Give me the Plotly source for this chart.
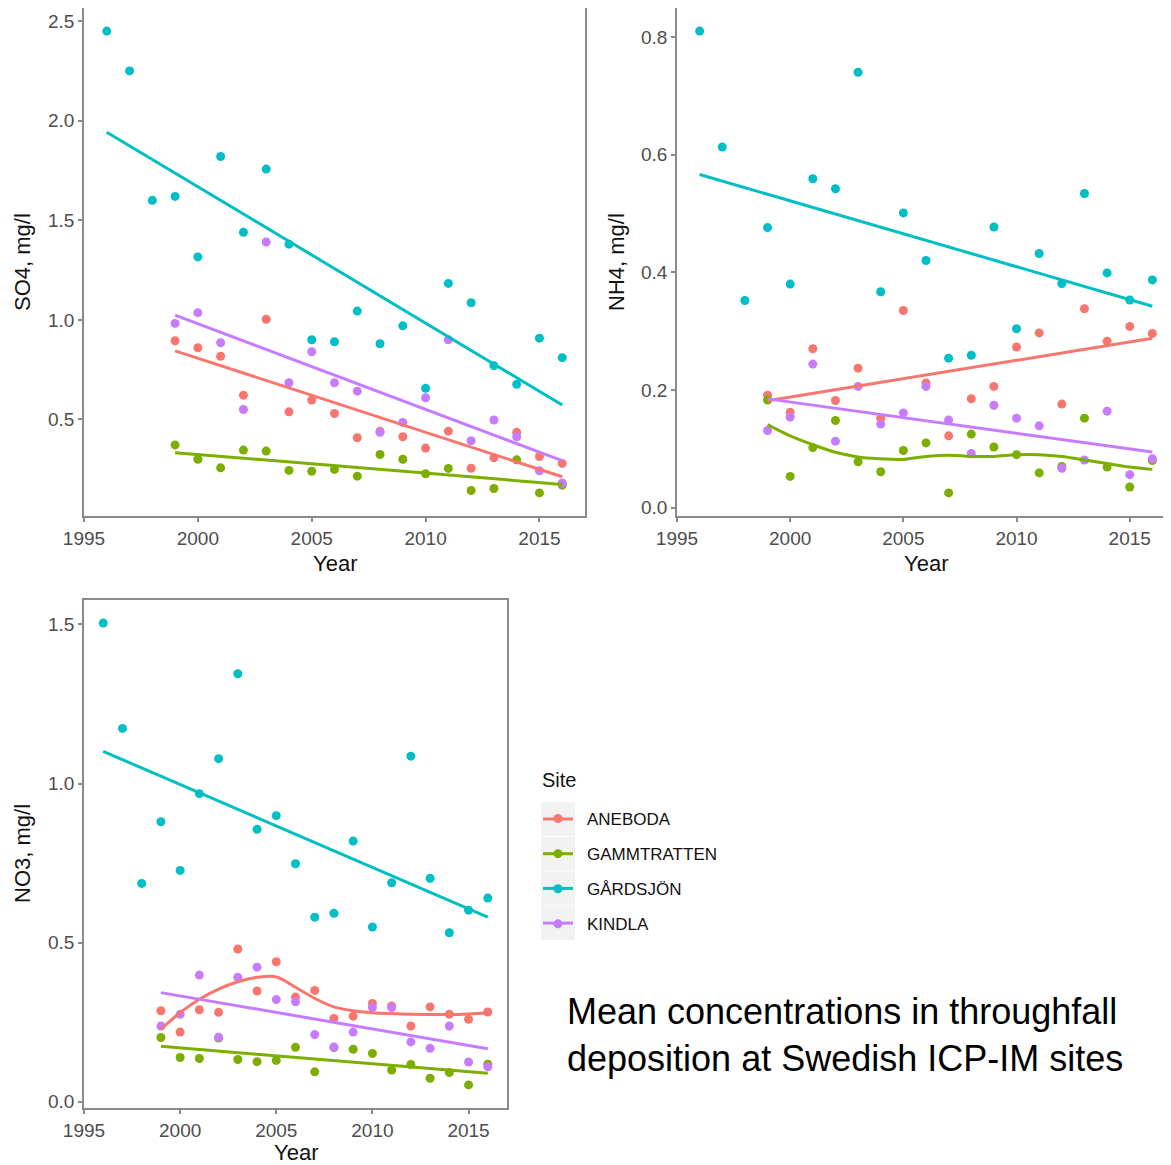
import numpy as np
import plotly.graph_objects as go

# window size and page offset (default body margin of the html page)
WIN_W, WIN_H = 1171, 1165
OFF = 8
W, H = WIN_W - OFF, WIN_H - OFF


def fx(x):
    return (x - OFF) / W


def fy(y):
    return 1 - (y - OFF) / H


sites = ["ANEBODA", "GAMMTRATTEN", "GÅRDSJÖN", "KINDLA"]
colors = {"ANEBODA": "#F8766D", "GAMMTRATTEN": "#7CAE00", "GÅRDSJÖN": "#00BFC4", "KINDLA": "#C77CFF"}

years_gard = list(range(1996, 2017))
years_other = list(range(1999, 2017))

# SO4 (mg/l)
so4_aneboda = [0.895, 0.86, 0.817, 0.622, 1.003, 0.538, 0.597, 0.53, 0.408, 0.44, 0.413, 0.356, 0.441, 0.255, 0.307, 0.435, 0.314, 0.279]
so4_gammtratten = [0.372, 0.30, 0.257, 0.346, 0.341, 0.244, 0.24, 0.249, 0.215, 0.324, 0.30, 0.227, 0.254, 0.143, 0.153, 0.297, 0.131, 0.17]
so4_gardsjon = [2.45, 2.25, 1.60, 1.62, 1.316, 1.82, 1.44, 1.757, 1.38, 0.90, 0.89, 1.044, 0.88, 0.97, 0.656, 1.183, 1.086, 0.77, 0.676, 0.908, 0.81]
so4_kindla = [0.982, 1.036, 0.885, 0.55, 1.391, 0.684, 0.84, 0.684, 0.642, 0.435, 0.485, 0.609, 0.90, 0.393, 0.497, 0.413, 0.242, 0.181]

# NH4 (mg/l)
nh4_aneboda = [0.191, 0.162, 0.270, 0.182, 0.237, 0.152, 0.335, 0.212, 0.122, 0.185, 0.206, 0.273, 0.297, 0.176, 0.338, 0.283, 0.308, 0.296]
nh4_gammtratten = [0.183, 0.053, 0.102, 0.148, 0.078, 0.061, 0.097, 0.110, 0.025, 0.125, 0.103, 0.090, 0.059, 0.07, 0.152, 0.069, 0.035, 0.08]
nh4_gardsjon = [0.81, 0.613, 0.352, 0.476, 0.380, 0.559, 0.542, 0.740, 0.367, 0.501, 0.420, 0.254, 0.259, 0.477, 0.304, 0.432, 0.381, 0.534, 0.399, 0.353, 0.387]
nh4_kindla = [0.131, 0.154, 0.244, 0.113, 0.206, 0.142, 0.161, 0.206, 0.149, 0.092, 0.174, 0.152, 0.139, 0.067, 0.081, 0.164, 0.056, 0.083]
nh4_gammtratten_smooth = [0.141, 0.122, 0.107, 0.094, 0.086, 0.083, 0.082, 0.087, 0.089, 0.087, 0.087, 0.090, 0.090, 0.087, 0.081, 0.075, 0.069, 0.065]

# NO3 (mg/l)
no3_aneboda = [0.286, 0.219, 0.289, 0.281, 0.48, 0.348, 0.44, 0.329, 0.35, 0.262, 0.269, 0.309, 0.301, 0.238, 0.298, 0.275, 0.259, 0.282]
no3_gammtratten = [0.202, 0.139, 0.136, 0.2, 0.133, 0.126, 0.13, 0.171, 0.094, 0.17, 0.165, 0.152, 0.10, 0.117, 0.074, 0.092, 0.053, 0.118]
no3_gardsjon = [1.504, 1.173, 0.686, 0.88, 0.727, 0.968, 1.078, 1.345, 0.856, 0.899, 0.748, 0.58, 0.592, 0.819, 0.549, 0.688, 1.086, 0.702, 0.531, 0.602, 0.640]
no3_kindla = [0.238, 0.275, 0.398, 0.203, 0.391, 0.423, 0.321, 0.314, 0.211, 0.172, 0.219, 0.296, 0.296, 0.188, 0.168, 0.238, 0.125, 0.11]
no3_aneboda_smooth = [0.228, 0.28, 0.322, 0.354, 0.377, 0.391, 0.392, 0.36, 0.325, 0.298, 0.286, 0.28, 0.277, 0.275, 0.274, 0.274, 0.276, 0.28]

x_ticks = [1995, 2000, 2005, 2010, 2015]

panels = [
    dict(name="SO4, mg/l", data={"ANEBODA": so4_aneboda, "GAMMTRATTEN": so4_gammtratten, "GÅRDSJÖN": so4_gardsjon, "KINDLA": so4_kindla},
         smooth={}, ticks=[0.5, 1.0, 1.5, 2.0, 2.5],
         px=(84, 585), py=(8, 516), title_x=22, year_y=563),
    dict(name="NH4, mg/l", data={"ANEBODA": nh4_aneboda, "GAMMTRATTEN": nh4_gammtratten, "GÅRDSJÖN": nh4_gardsjon, "KINDLA": nh4_kindla},
         smooth={"GAMMTRATTEN": nh4_gammtratten_smooth}, ticks=[0.0, 0.2, 0.4, 0.6, 0.8],
         px=(677, 1175), py=(8, 516), title_x=616, year_y=563),
    dict(name="NO3, mg/l", data={"ANEBODA": no3_aneboda, "GAMMTRATTEN": no3_gammtratten, "GÅRDSJÖN": no3_gardsjon, "KINDLA": no3_kindla},
         smooth={"ANEBODA": no3_aneboda_smooth}, ticks=[0.0, 0.5, 1.0, 1.5],
         px=(84, 507), py=(600, 1108), title_x=22, year_y=1152),
]

fig = go.Figure()
layout = {}
annotations = []
border = "#8a8a8a"
FONT = "Liberation Sans, Arial, sans-serif"
tick_font = dict(family=FONT, size=19, color="#4d4d4d")
title_font = dict(family=FONT, size=22, color="#111111")

for i, p in enumerate(panels, start=1):
    xa = "x" if i == 1 else f"x{i}"
    ya = "y" if i == 1 else f"y{i}"
    x0p, x1p = p["px"]
    y0p, y1p = p["py"]
    full_w = x1p - x0p
    x_lo, x_hi = 1995.0, 2017.0
    if x1p > WIN_W:
        x_hi = x_lo + (x_hi - x_lo) * (WIN_W - x0p) / full_w
        x1p = WIN_W
    allv = np.concatenate([np.array(v, dtype=float) for v in p["data"].values()])
    vmin, vmax = allv.min(), allv.max()
    pad = 0.05 * (vmax - vmin)
    for s in sites:
        yrs = years_gard if s == "GÅRDSJÖN" else years_other
        fig.add_trace(go.Scatter(x=yrs, y=p["data"][s], mode="markers", xaxis=xa, yaxis=ya,
                                 marker=dict(color=colors[s], size=9), showlegend=False, hoverinfo="x+y"))
    for s in sites:
        yrs = years_gard if s == "GÅRDSJÖN" else years_other
        if s in p["smooth"]:
            fig.add_trace(go.Scatter(x=yrs, y=p["smooth"][s], mode="lines", xaxis=xa, yaxis=ya,
                                     line=dict(color=colors[s], width=3, shape="spline", smoothing=1.0),
                                     showlegend=False, hoverinfo="skip"))
        else:
            coef = np.polyfit(yrs, p["data"][s], 1)
            fit = np.polyval(coef, yrs)
            fig.add_trace(go.Scatter(x=yrs, y=fit, mode="lines", xaxis=xa, yaxis=ya,
                                     line=dict(color=colors[s], width=3),
                                     showlegend=False, hoverinfo="skip"))
    right_edge_visible = p["px"][1] <= WIN_W
    layout["xaxis" if i == 1 else f"xaxis{i}"] = dict(
        domain=[fx(x0p), min(1.0, fx(x1p))], range=[x_lo, x_hi], anchor=ya, automargin=False,
        tickvals=x_ticks, ticks="outside", ticklen=4, tickcolor=border, tickwidth=1.5,
        showline=True, linecolor=border, linewidth=1.5, mirror=True,
        showgrid=False, zeroline=False, tickfont=tick_font)
    layout["yaxis" if i == 1 else f"yaxis{i}"] = dict(
        domain=[fy(y1p), fy(y0p)], range=[vmin - pad, vmax + pad], anchor=xa, automargin=False,
        tickvals=p["ticks"], tickformat=".1f", ticks="outside", ticklen=4, tickcolor=border, tickwidth=1.5,
        showline=True, linecolor=border, linewidth=1.5, mirror=right_edge_visible,
        showgrid=False, zeroline=False, tickfont=tick_font)
    annotations.append(dict(text=p["name"], x=fx(p["title_x"]), y=fy((y0p + y1p) / 2),
                            xref="paper", yref="paper", showarrow=False, textangle=-90,
                            font=title_font, xanchor="center", yanchor="middle"))
    annotations.append(dict(text="Year", x=fx((p["px"][0] + p["px"][1]) / 2), y=fy(p["year_y"]),
                            xref="paper", yref="paper", showarrow=False,
                            font=title_font, xanchor="center", yanchor="middle"))

# legend entries (markers; key lines drawn as shapes on the grey key boxes)
for s in sites:
    fig.add_trace(go.Scatter(x=[None], y=[None], mode="markers", name=s, legendgroup=s,
                             marker=dict(color=colors[s], size=9), showlegend=True))

shapes = []
for k, s in enumerate(sites):
    cy = 819 + k * 34.7
    shapes.append(dict(type="rect", xref="paper", yref="paper", x0=fx(541), x1=fx(575),
                       y0=fy(cy + 17), y1=fy(cy - 17),
                       fillcolor="#f2f2f2", line=dict(width=0), layer="below"))
    shapes.append(dict(type="line", xref="paper", yref="paper", x0=fx(543), x1=fx(573),
                       y0=fy(cy), y1=fy(cy), line=dict(color=colors[s], width=3), layer="above"))

annotations.append(dict(text="Site", x=fx(540), y=fy(780), xref="paper", yref="paper", showarrow=False,
                        xanchor="left", yanchor="middle", font=dict(family=FONT, size=20, color="#111111")))

annotations.append(dict(text="Mean concentrations in throughfall<br>deposition at Swedish ICP-IM sites",
                        x=fx(565), y=fy(1035), xref="paper", yref="paper", showarrow=False,
                        xanchor="left", yanchor="middle", align="left",
                        font=dict(family=FONT, size=36, color="#000000")))

fig.update_layout(
    width=W, height=H, margin=dict(l=0, r=0, t=0, b=0, autoexpand=False),
    paper_bgcolor="white", plot_bgcolor="white",
    annotations=annotations, shapes=shapes,
    legend=dict(x=fx(529), y=fy(801), xanchor="left", yanchor="top",
                font=dict(family=FONT, size=17, color="#111111"),
                traceorder="grouped", tracegroupgap=10, bgcolor="rgba(0,0,0,0)", itemwidth=48),
    **layout,
)

fig.write_html("out.html")
